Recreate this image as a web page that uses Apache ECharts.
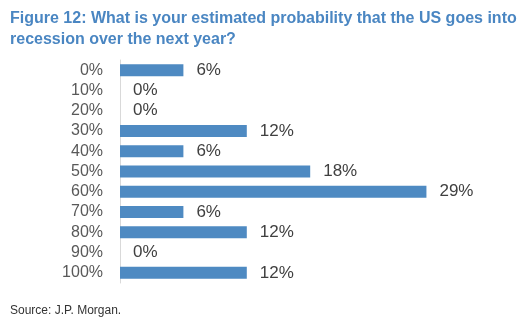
<!DOCTYPE html>
<html>
<head>
<meta charset="utf-8">
<script src="https://cdn.jsdelivr.net/npm/echarts@6/dist/echarts.min.js"></script>
<style>
  html, body { margin: 0; padding: 0; background: #fff; }
  #chart { width: 521px; height: 327px; }
</style>
</head>
<body>
<div id="chart"></div>
<script>
// Estimated probability buckets and share of respondents (%)
const categories = ['0%', '10%', '20%', '30%', '40%', '50%', '60%', '70%', '80%', '90%', '100%'];
const shares = [6, 0, 0, 12, 6, 18, 29, 6, 12, 0, 12];

const titleText = 'Figure 12: What is your estimated probability that the US goes into\nrecession over the next year?';
const sourceText = 'Source: J.P. Morgan.';

const chart = echarts.init(document.getElementById('chart'));
chart.setOption({
  backgroundColor: '#ffffff',
  animation: false,
  textStyle: { fontFamily: 'Liberation Sans, Arial, sans-serif' },
  title: {
    text: titleText,
    left: 5,
    top: 3,
    textStyle: {
      fontSize: 16,
      fontWeight: 'bold',
      color: '#4a86c2',
      lineHeight: 21,
      fontFamily: 'Liberation Sans, Arial, sans-serif'
    }
  },
  graphic: [{
    type: 'text',
    left: 10,
    top: 305,
    style: {
      text: sourceText,
      fontSize: 12,
      fill: '#333333',
      fontFamily: 'Liberation Sans, Arial, sans-serif'
    }
  }],
  grid: { left: 120, top: 60, width: 317, height: 223, containLabel: false },
  xAxis: {
    type: 'value',
    min: 0,
    max: 30,
    show: false
  },
  yAxis: {
    type: 'category',
    data: categories,
    inverse: true,
    axisLine: { show: true, lineStyle: { color: '#d9d9d9', width: 1 } },
    axisTick: { show: false },
    axisLabel: { interval: 0, hideOverlap: false, fontSize: 16, color: '#595959', margin: 17 }
  },
  series: [{
    type: 'bar',
    data: shares,
    barWidth: 12,
    itemStyle: { color: '#4e8ac2' },
    label: {
      show: true,
      position: 'right',
      distance: 13,
      fontSize: 17,
      color: '#404040',
      formatter: p => p.value + '%'
    }
  }]
});
</script>
</body>
</html>
